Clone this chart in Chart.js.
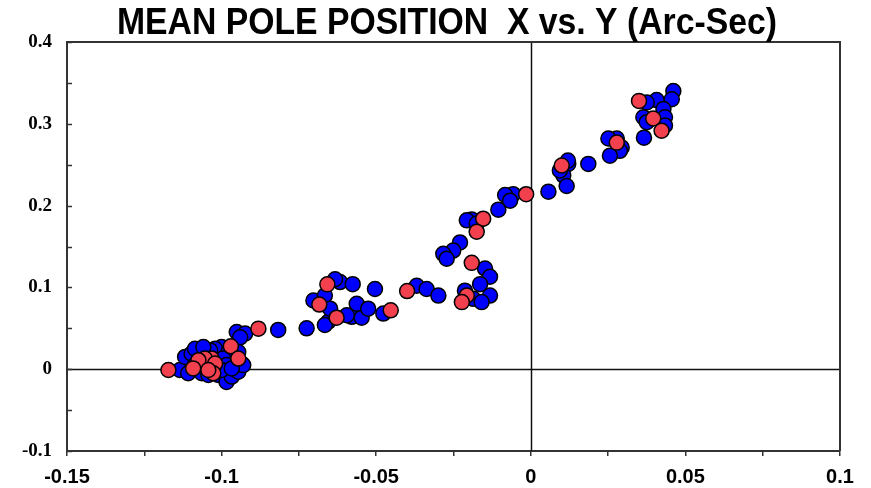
<!DOCTYPE html>
<html>
<head>
<meta charset="utf-8">
<script src="https://cdn.jsdelivr.net/npm/chart.js@4"></script>
<style>
  html, body { margin: 0; padding: 0; background: #ffffff; }
  #wrap { width: 871px; height: 488px; }
</style>
</head>
<body>
<div id="wrap"><canvas id="c" width="871" height="488"></canvas></div>
<script>
// Pole position samples (arc-seconds)
const blueX = [
  0.0461, 0.0456, 0.0407, 0.0375, 0.0429, 0.0364, 0.0434, 0.0375, 0.0434, 0.0366,
  0.0278, 0.0251, 0.0294, 0.0288, 0.0256, 0.0186, 0.0121, 0.0120, 0.0105, 0.0094,
  0.0116, 0.0057,
  -0.0057, -0.0083, -0.0067, -0.0105, -0.0191, -0.0207, -0.0175, -0.0229, -0.0251, -0.0283,
  -0.0272, -0.0148, -0.0132, -0.0164, -0.0132, -0.0213, -0.0186, -0.0159, -0.0369, -0.0337,
  -0.0299,
  -0.0817, -0.0725, -0.0655, -0.0666, -0.0579, -0.0547, -0.0563, -0.0526, -0.0477, -0.0504,
  -0.0703, -0.0666, -0.0617, -0.0576, -0.0633, -0.0649, -0.0595,
  -0.0951, -0.0924, -0.0940, -0.1000, -0.1021, -0.1037, -0.0935, -0.1135, -0.1118, -0.1097,
  -0.1086, -0.1108, -0.1064, -0.1043, -0.1011, -0.0984, -0.0967, -0.0946, -0.0930, -0.0946,
  -0.0978, -0.0967, -0.0995, -0.0984, -0.1000, -0.0967, -0.1086, -0.1059
];
const blueY = [
  0.340, 0.330, 0.329, 0.326, 0.318, 0.308, 0.308, 0.302, 0.298, 0.283,
  0.282, 0.282, 0.271, 0.267, 0.261, 0.251, 0.251, 0.255, 0.237, 0.243,
  0.224, 0.217,
  0.214, 0.213, 0.206, 0.195, 0.183, 0.182, 0.178, 0.155, 0.145, 0.141,
  0.135, 0.123, 0.113, 0.104, 0.090, 0.096, 0.086, 0.082, 0.102, 0.098,
  0.090,
  0.048, 0.050, 0.058, 0.054, 0.064, 0.063, 0.080, 0.074, 0.068, 0.098,
  0.084, 0.090, 0.1065, 0.104, 0.110, 0.074, 0.066,
  0.0455, 0.0435, 0.039, 0.027, 0.025, 0.023, 0.007, -0.001, 0.015, 0.019,
  0.005, -0.005, -0.005, -0.007, -0.007, -0.0155, -0.009, -0.003, 0.005, 0.021,
  0.021, 0.015, 0.013, 0.005, -0.001, 0.001, 0.025, 0.027
];
const redX = [
  0.0350, 0.0396, 0.0423, 0.0278, 0.0100, -0.0015, -0.0154, -0.0175, -0.0191, -0.0207,
  -0.0223, -0.0400, -0.0453, -0.0628, -0.0684, -0.0658, -0.0881, -0.0970, -0.0946, -0.1027,
  -0.1032, -0.1054, -0.1075, -0.1092, -0.1172, -0.1021, -0.1027, -0.1043
];
const redY = [
  0.328, 0.3065, 0.2915, 0.277, 0.249, 0.214, 0.184, 0.168, 0.130, 0.090,
  0.082, 0.0955, 0.072, 0.063, 0.079, 0.1037, 0.0496, 0.028, 0.013, 0.0016,
  0.013, 0.013, 0.011, 0.001, -0.001, 0.007, -0.005, -0.001
];

// Axis ticks
const xTickValues = [-0.15, -0.125, -0.1, -0.075, -0.05, -0.025, 0, 0.025, 0.05, 0.075, 0.1];
const xTickLabels = ['-0.15', '', '-0.1', '', '-0.05', '', '0', '', '0.05', '', '0.1'];
const yTickValues = [-0.1, -0.05, 0, 0.05, 0.1, 0.15, 0.2, 0.25, 0.3, 0.35, 0.4];
const yTickLabels = ['-0.1', '', '0', '', '0.1', '', '0.2', '', '0.3', '', '0.4'];

const titleText = 'MEAN POLE POSITION  X vs. Y (Arc-Sec)';

const toPoints = (xs, ys) => xs.map((x, i) => ({ x: x, y: ys[i] }));

// Frame, zero lines and inward y ticks
const framePlugin = {
  id: 'frame',
  beforeDatasetsDraw(chart) {
    const { ctx, chartArea: a, scales: { x, y } } = chart;
    ctx.save();
    // zero reference lines
    ctx.strokeStyle = '#111111';
    ctx.lineWidth = 1.5;
    const x0 = Math.round(x.getPixelForValue(0)) + 0.5;
    const y0 = Math.round(y.getPixelForValue(0)) + 0.5;
    ctx.beginPath();
    ctx.moveTo(x0, a.top); ctx.lineTo(x0, a.bottom);
    ctx.moveTo(a.left, y0); ctx.lineTo(a.right, y0);
    ctx.stroke();
    // top and right frame edges
    ctx.strokeStyle = '#333333';
    ctx.lineWidth = 2;
    ctx.beginPath();
    ctx.moveTo(a.left, a.top); ctx.lineTo(a.right, a.top); ctx.lineTo(a.right, a.bottom);
    ctx.stroke();
    // y ticks pointing into the plot
    ctx.lineWidth = 1.5;
    ctx.beginPath();
    yTickValues.forEach(v => {
      const py = Math.round(y.getPixelForValue(v)) + 0.5;
      ctx.moveTo(a.left, py); ctx.lineTo(a.left + 5, py);
    });
    ctx.stroke();
    ctx.restore();
  }
};

// Condensed bold heading above the plot
const headingPlugin = {
  id: 'heading',
  afterDraw(chart) {
    const ctx = chart.ctx;
    ctx.save();
    ctx.font = "bold 36px 'Liberation Sans', Arial, sans-serif";
    ctx.fillStyle = '#000000';
    ctx.textBaseline = 'alphabetic';
    ctx.textAlign = 'left';
    const w = ctx.measureText(titleText).width;
    const targetW = 660;
    const sx = targetW / w;
    ctx.translate(117, 34);
    ctx.scale(sx, 1);
    ctx.fillText(titleText, 0, 0);
    ctx.restore();
  }
};

new Chart(document.getElementById('c'), {
  type: 'scatter',
  data: {
    datasets: [
      {
        label: 'red',
        data: toPoints(redX, redY),
        backgroundColor: '#f2404e',
        borderColor: '#000000',
        borderWidth: 1.5,
        pointRadius: 7.5,
        order: 0
      },
      {
        label: 'blue',
        data: toPoints(blueX, blueY),
        backgroundColor: '#0000ff',
        borderColor: '#000000',
        borderWidth: 1.5,
        pointRadius: 7.5,
        order: 1
      }
    ]
  },
  options: {
    responsive: false,
    animation: false,
    layout: { padding: { left: 0, right: 31, top: 42, bottom: 0 } },
    plugins: {
      legend: { display: false },
      tooltip: { enabled: false },
      title: { display: false }
    },
    scales: {
      x: {
        type: 'linear',
        min: -0.15,
        max: 0.1,
        afterBuildTicks: s => { s.ticks = xTickValues.map(v => ({ value: v })); },
        afterFit: s => { s.height = 37; },
        ticks: {
          autoSkip: false,
          maxRotation: 0,
          padding: 9,
          color: '#000000',
          font: { family: "'Liberation Sans', Arial, sans-serif", size: 20, weight: 'bold' },
          callback: (v, i) => xTickLabels[i]
        },
        grid: { drawOnChartArea: false, drawTicks: true, tickLength: 5, color: '#333333', lineWidth: 1.5 },
        border: { display: true, color: '#333333', width: 2 }
      },
      y: {
        type: 'linear',
        min: -0.1,
        max: 0.4,
        afterBuildTicks: s => { s.ticks = yTickValues.map(v => ({ value: v })); },
        afterFit: s => { s.width = 67; },
        ticks: {
          autoSkip: false,
          padding: 15,
          color: '#000000',
          font: { family: "'Liberation Serif', 'Times New Roman', serif", size: 19, weight: 'bold' },
          callback: (v, i) => yTickLabels[i]
        },
        grid: { drawOnChartArea: false, drawTicks: false },
        border: { display: true, color: '#333333', width: 2 }
      }
    }
  },
  plugins: [framePlugin, headingPlugin]
});
</script>
</body>
</html>
